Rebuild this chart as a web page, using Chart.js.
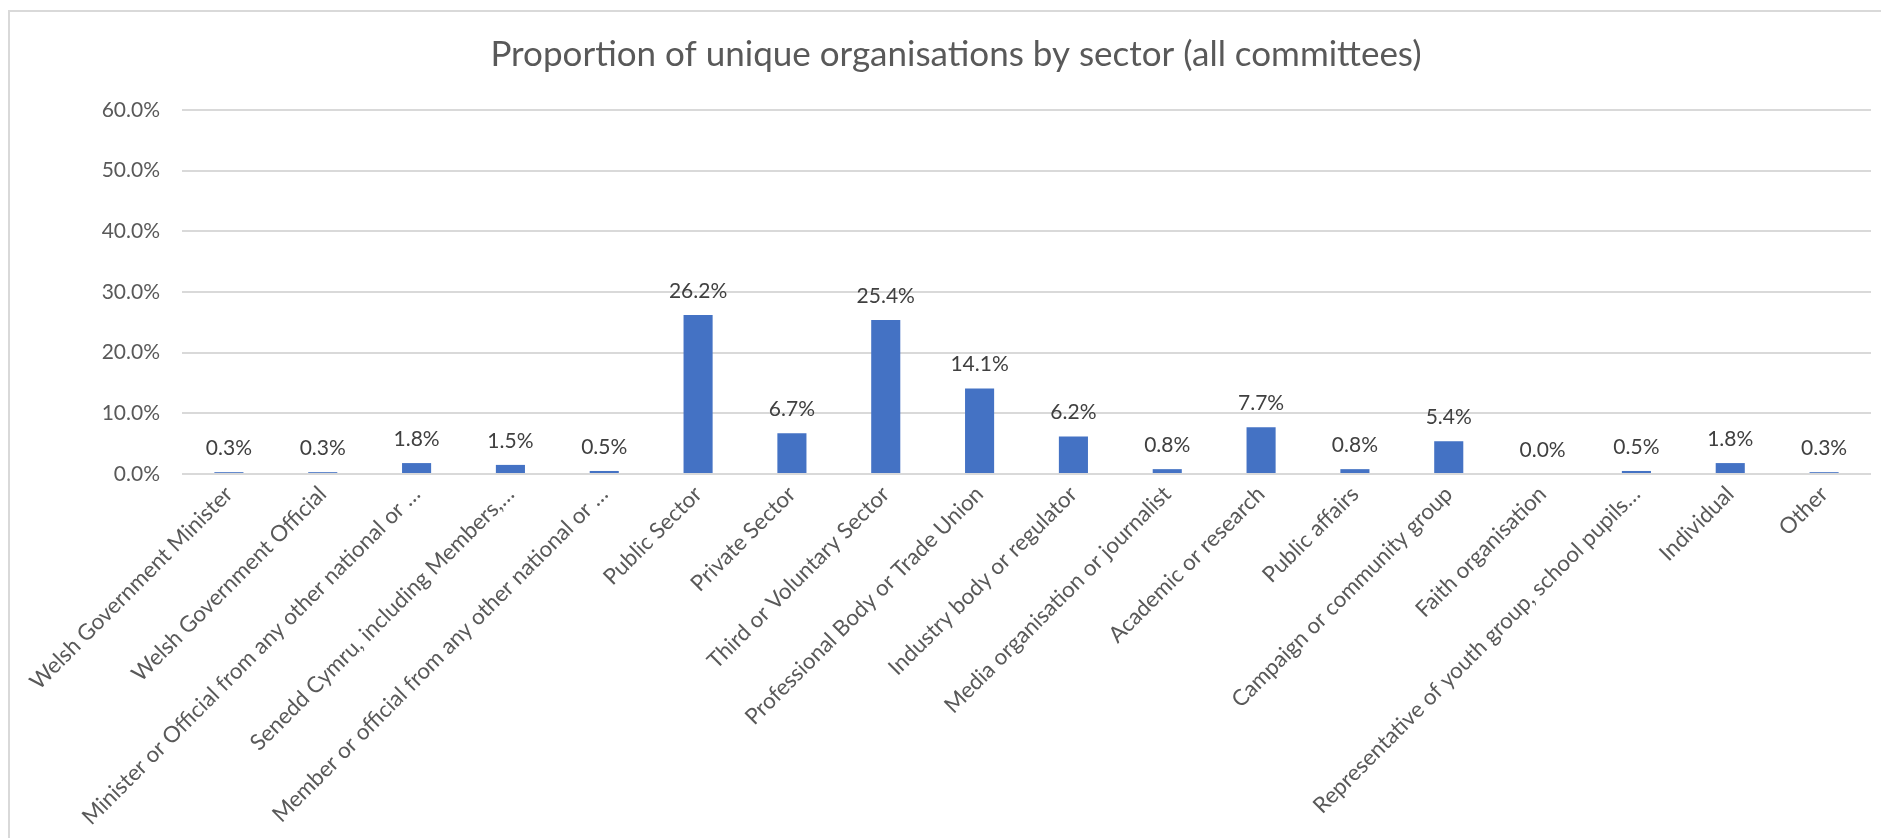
<!DOCTYPE html>
<html>
<head>
<meta charset="utf-8">
<script src="https://cdn.jsdelivr.net/npm/chart.js@4.4.1/dist/chart.umd.min.js"></script>
<style>
  body { margin: 0; background: #fff; }
  #frame { position: absolute; left: 8px; top: 10px; width: 1900px; height: 900px; border-left: 2px solid #d9d9d9; border-top: 2px solid #d9d9d9; }
  #sector-chart { position: absolute; left: 0; top: 0; }
</style>
</head>
<body>
<div id="frame"></div>
<canvas id="sector-chart" width="1881" height="838"></canvas>
<script>
  var sectors = [
    'Welsh Government Minister',
    'Welsh Government Official',
    'Minister or Official from any other national or …',
    'Senedd Cymru, including Members,…',
    'Member or official from any other national or …',
    'Public Sector',
    'Private Sector',
    'Third or Voluntary Sector',
    'Professional Body or Trade Union',
    'Industry body or regulator',
    'Media organisation or journalist',
    'Academic or research',
    'Public affairs',
    'Campaign or community group',
    'Faith organisation',
    'Representative of youth group, school pupils…',
    'Individual',
    'Other'
  ];
  var proportions = [0.3, 0.3, 1.8, 1.5, 0.5, 26.2, 6.7, 25.4, 14.1, 6.2, 0.8, 7.7, 0.8, 5.4, 0.0, 0.5, 1.8, 0.3];
  var yTicks = [0, 10, 20, 30, 40, 50, 60];

  var textGrey = '#595959';

  // value labels above each bar
  var barLabels = {
    id: 'barLabels',
    afterDatasetsDraw: function (chart) {
      var ctx = chart.ctx;
      var meta = chart.getDatasetMeta(0);
      ctx.save();
      ctx.font = '21px Lato';
      ctx.fillStyle = '#404040';
      ctx.textAlign = 'center';
      ctx.textBaseline = 'alphabetic';
      meta.data.forEach(function (bar, i) {
        ctx.fillText(proportions[i].toFixed(1) + '%', bar.x, bar.y - 17);
      });
      ctx.restore();
    }
  };

  var chartContext = document.getElementById('sector-chart');
  var sectorChart = new Chart(chartContext, {
    type: 'bar',
    data: {
      labels: sectors,
      datasets: [{
        data: proportions,
        backgroundColor: '#4472c4',
        categoryPercentage: 1,
        barPercentage: 0.31
      }]
    },
    options: {
      responsive: false,
      animation: false,
      layout: { padding: { left: 41, right: 10, top: 0, bottom: 0 } },
      plugins: {
        legend: { display: false },
        tooltip: { enabled: false },
        title: {
          display: true,
          text: 'Proportion of unique organisations by sector (all committees)',
          color: textGrey,
          font: { family: 'Lato', size: 35, weight: 'normal' },
          padding: { top: 34, bottom: 34 }
        }
      },
      scales: {
        x: {
          grid: { display: false },
          border: { display: false },
          ticks: {
            autoSkip: false,
            minRotation: 45,
            maxRotation: 45,
            padding: -1,
            color: textGrey,
            font: { family: 'Lato', size: 22.3 }
          },
          afterFit: function (scale) { scale.height = 364; }
        },
        y: {
          min: 0,
          max: 60,
          afterBuildTicks: function (scale) {
            scale.ticks = yTicks.map(function (v) { return { value: v }; });
          },
          grid: { color: '#d9d9d9', lineWidth: 2, drawTicks: false },
          border: { display: false },
          ticks: {
            padding: 22,
            color: textGrey,
            font: { family: 'Lato', size: 21 },
            callback: function (v) { return Number(v).toFixed(1) + '%'; }
          },
          afterFit: function (scale) { scale.width = 141; }
        }
      }
    },
    plugins: [barLabels]
  });
</script>
</body>
</html>
